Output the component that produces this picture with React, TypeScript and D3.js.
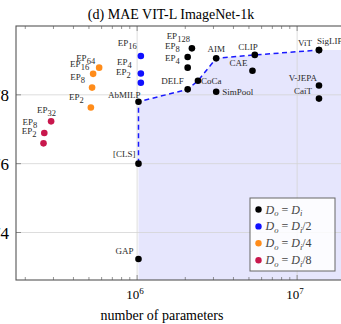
import React from 'react'
import { scaleLog, scaleLinear, area, line } from 'd3'

// data
const names = [
  'AbMILP', '[CLS]', 'GAP', 'EP128', 'EP8', 'EP4', 'DELF', 'CoCa', 'SimPool', 'AIM', 'CLIP', 'CAE', 'ViT', 'SigLIP', 'V-JEPA', 'CaiT',
  'EP16', 'EP4', 'EP2',
  'EP64', 'EP16', 'EP8', 'EP2',
  'EP32', 'EP8', 'EP2'
]
const params = [
  1.02e6, 1.02e6, 1.02e6, 2.2e6, 2.07e6, 2.07e6, 2.07e6, 2.4e6, 3.12e6, 3.12e6, 5.44e6, 5.26e6, 1.37e7, 1.37e7, 1.37e7, 1.37e7,
  1.055e6, 1.055e6, 1.055e6,
  5.79e5, 5.31e5, 5.23e5, 5.14e5,
  2.9e5, 2.63e5, 2.6e5
]
const accuracy = [
  77.8, 76.0, 73.23, 79.35, 79.1, 78.79, 78.16, 78.41, 78.09, 79.06, 79.16, 78.7, 79.3, 79.3, 78.27, 77.89,
  79.13, 78.62, 78.35,
  78.79, 78.61, 78.21, 77.63,
  77.23, 76.89, 76.59
]
const groups = [
  0, 0, 0, 0, 0, 0, 0, 0, 0, 0, 0, 0, 0, 0, 0, 0,
  1, 1, 1,
  2, 2, 2, 2,
  3, 3, 3
]
const frontier = ['AbMILP', 'DELF', 'CoCa', 'AIM', 'CLIP', 'SigLIP']
const legendDivisors = ['', '/2', '/4', '/8']
const yTicks = [74, 76, 78]
const xMajor = [1e6, 1e7]
const xMinor = [2e5, 3e5, 4e5, 5e5, 6e5, 7e5, 8e5, 9e5, 2e6, 3e6, 4e6, 5e6, 6e6, 7e6, 8e6, 9e6, 2e7]

// layout
const COLORS = ['#000000', '#1010ff', '#ff8c1a', '#c8174c']
const LEFT = 16
const TOP = 26
const BOTTOM = 280
const DECADE = 160
const X_DOMAIN: [number, number] = [1.75e5, 2.85e7]

// label offsets [dx, dy, anchor] keyed by index
const LABELS: [number, number, string][] = [
  [2, -4, 'end'], [-3, -7, 'end'], [-5, -5, 'end'], [-2, -9, 'end'], [-8, -8, 'end'], [-8, -7, 'end'], [-4, -5, 'end'],
  [3, 3, 'start'], [6, 3, 'start'], [0, -6, 'middle'], [3, -5, 'end'], [-5, -5, 'end'], [-7, -4, 'end'], [-2, -6, 'start'],
  [-2, -5, 'end'], [-7, -5, 'end'],
  [-4, -10, 'end'], [-9, -8, 'end'], [-10, -8, 'end'],
  [-4, -7, 'end'], [-4, -7, 'end'], [-7, -8, 'end'], [-7, -8, 'end'],
  [5, -8, 'end'], [-7, -8, 'end'], [-7, -9, 'end']
]

const FONT = '"Liberation Serif", "DejaVu Serif", serif'

const Label: React.FC<{ name: string; x: number; y: number; anchor: string }> = ({ name, x, y, anchor }) => {
  const ep = name.startsWith('EP')
  return (
    <text x={x} y={y} textAnchor={anchor as any} fontSize={9} fill="#2a2a2a" fontFamily={FONT}>
      {ep ? 'EP' : name}
      {ep && (
        <tspan dy={3} fontSize={8.5}>
          {name.slice(2)}
        </tspan>
      )}
    </text>
  )
}

export default function App() {
  const x = scaleLog()
    .domain(X_DOMAIN)
    .range([LEFT, LEFT + DECADE * Math.log10(X_DOMAIN[1] / X_DOMAIN[0])])
  const y = scaleLinear().domain([72.62, 80]).range([BOTTOM, TOP])
  const right = x.range()[1]

  const idx = (n: string) => names.findIndex((d, i) => d === n && groups[i] === 0)
  const front = frontier.map((n) => [params[idx(n)], accuracy[idx(n)]] as [number, number])
  const cls = idx('[CLS]')
  const fillPts: [number, number][] = [...front, [X_DOMAIN[1], front[front.length - 1][1]]]
  const fillPath = area<[number, number]>()
    .x((d) => x(d[0]))
    .y0(BOTTOM)
    .y1((d) => y(d[1]))(fillPts)
  const linePath = line<[number, number]>()
    .x((d) => x(d[0]))
    .y((d) => y(d[1]))([[params[cls], accuracy[cls]], ...front])

  const order = names.map((_, i) => i).sort((a, b) => groups[b] - groups[a])

  return (
    <svg width={341} height={324} style={{ position: 'absolute', left: 0, top: 0 }} fontFamily={FONT}>
      <defs>
        <clipPath id="plot">
          <rect x={LEFT} y={TOP} width={right - LEFT} height={BOTTOM - TOP} />
        </clipPath>
      </defs>
      <text x={171} y={19} textAnchor="middle" fontSize={14}>
        (d) MAE VIT-L ImageNet-1k
      </text>

      <g clipPath="url(#plot)">
        <path d={fillPath || ''} fill="#e6e6fd" />
        {yTicks.map((t) => (
          <line key={t} x1={LEFT} x2={right} y1={y(t)} y2={y(t)} stroke="#d4d4d4" strokeWidth={0.8} />
        ))}
        {xMajor.map((t) => (
          <line key={t} x1={x(t)} x2={x(t)} y1={TOP} y2={BOTTOM} stroke="#d4d4d4" strokeWidth={0.8} />
        ))}
        <path d={linePath || ''} fill="none" stroke="#1a1aff" strokeWidth={1.5} strokeDasharray="5 3.5" />
      </g>

      {/* ticks */}
      <g stroke="#666" strokeWidth={0.7}>
        {xMinor.map((t) => (
          <g key={t}>
            <line x1={x(t)} x2={x(t)} y1={BOTTOM} y2={BOTTOM - 3} />
            <line x1={x(t)} x2={x(t)} y1={TOP} y2={TOP + 3} />
          </g>
        ))}
        {xMajor.map((t) => (
          <g key={t}>
            <line x1={x(t)} x2={x(t)} y1={BOTTOM} y2={BOTTOM - 5} />
            <line x1={x(t)} x2={x(t)} y1={TOP} y2={TOP + 5} />
          </g>
        ))}
        {yTicks.map((t) => (
          <line key={t} x1={LEFT} x2={LEFT + 5} y1={y(t)} y2={y(t)} />
        ))}
      </g>
      <rect x={LEFT} y={TOP} width={right - LEFT} height={BOTTOM - TOP} fill="none" stroke="#555" strokeWidth={1.1} />

      {/* labels and points */}
      {names.map((n, i) => (
        <Label key={'l' + i} name={n} x={x(params[i]) + LABELS[i][0]} y={y(accuracy[i]) + LABELS[i][1]} anchor={LABELS[i][2]} />
      ))}
      {order.map((i) => (
        <circle key={'p' + i} cx={x(params[i])} cy={y(accuracy[i])} r={3.3} fill={COLORS[groups[i]]} />
      ))}

      {/* axis labels */}
      {yTicks.map((t) => (
        <text key={t} x={9} y={y(t) + 6} textAnchor="end" fontSize={17}>
          {t}
        </text>
      ))}
      {xMajor.map((t) => (
        <text key={t} x={x(t) - 2} y={299} textAnchor="middle" fontSize={13}>
          10
          <tspan dy={-5} fontSize={9}>
            {Math.round(Math.log10(t))}
          </tspan>
        </text>
      ))}
      <text x={162} y={320} textAnchor="middle" fontSize={14}>
        number of parameters
      </text>

      {/* legend */}
      <g>
        <rect x={250} y={198} width={85} height={73} fill="#fff" fillOpacity={0.85} stroke="#666" strokeWidth={1} />
        {legendDivisors.map((d, i) => (
          <g key={i} transform={`translate(258.5, ${209.5 + i * 16.9})`}>
            <circle r={3.2} fill={COLORS[i]} />
            <text x={7} y={4} fontSize={12} fill="#444" fontStyle="italic">
              D<tspan dy={2.5} fontSize={8.5}>o</tspan>
              <tspan dy={-2.5} fontStyle="normal"> = </tspan>D<tspan dy={2.5} fontSize={8.5}>i</tspan>
              <tspan dy={-2.5} fontStyle="normal">{d}</tspan>
            </text>
          </g>
        ))}
      </g>
    </svg>
  )
}
